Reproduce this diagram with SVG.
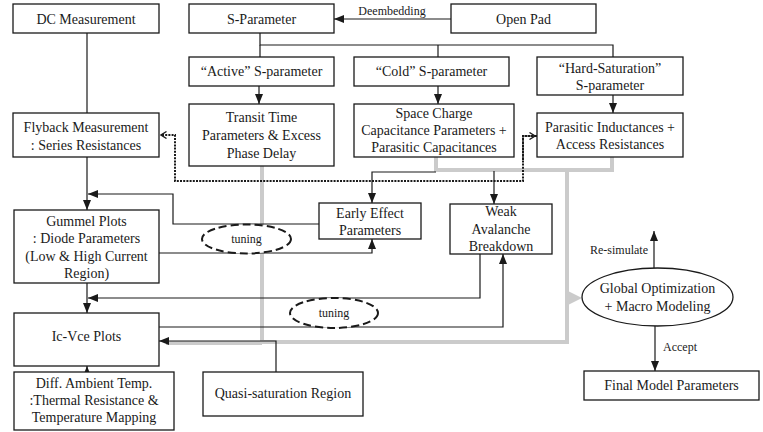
<svg xmlns="http://www.w3.org/2000/svg" width="763" height="432" viewBox="0 0 763 432">
<style>
.box{fill:#fff;stroke:#1a1a1a;stroke-width:1.3}
.t{font-family:"Liberation Serif","Times New Roman",serif;font-size:14px;fill:#1a1a1a;text-anchor:middle}
.s{font-family:"Liberation Serif","Times New Roman",serif;font-size:12px;fill:#1a1a1a;text-anchor:middle}
.c{fill:none;stroke:#1a1a1a;stroke-width:1.2}
.g{fill:none;stroke:#cbcbcb;stroke-width:4}
.d{fill:none;stroke:#1a1a1a;stroke-width:2;stroke-dasharray:2 1.2}
.e{fill:#fff;stroke:#1a1a1a;stroke-width:2;stroke-dasharray:8 4}
</style>
<defs>
<marker id="a" markerUnits="userSpaceOnUse" markerWidth="10" markerHeight="8" refX="10" refY="4" orient="auto"><path d="M0,0 L10,4 L0,8 z" fill="#1a1a1a"/></marker>
<marker id="o" markerUnits="userSpaceOnUse" markerWidth="7" markerHeight="8" refX="6" refY="4" orient="auto"><path d="M0.5,0.5 L6,4 L0.5,7.5" fill="none" stroke="#1a1a1a" stroke-width="1.3"/></marker>
</defs>
<g id="connectors">
<!-- gray network -->
<path class="g" d="M262,166 V342 H567 V170"/>
<path class="g" d="M166,343 H262"/>
<path class="g" d="M436,157 V170 H612 V157"/>
<path class="g" d="M567,298 H572"/>
<polygon points="566,290 582,298 566,306" fill="#cbcbcb"/>
<!-- dotted -->
<path class="d" d="M537,136 H523 V181 H175 V135 H161" marker-end="url(#o)"/>
<path class="d" d="M523,160 V136 H535" marker-end="url(#o)"/>
<!-- top -->
<path class="c" d="M451,19 H334" marker-end="url(#a)"/>
<path class="c" d="M260,33 V45 H613 V57"/>
<path class="c" d="M260,45 V57"/>
<path class="c" d="M438,45 V57"/>
<path class="c" d="M259,86 V104" marker-end="url(#a)"/>
<path class="c" d="M438,86 V104" marker-end="url(#a)"/>
<path class="c" d="M613,95 V113" marker-end="url(#a)"/>
<!-- left column -->
<path class="c" d="M87,33 V113"/>
<path class="c" d="M87,157 V210" marker-end="url(#a)"/>
<path class="c" d="M87,283 V313" marker-end="url(#a)"/>
<path class="c" d="M87,372 V366" marker-end="url(#a)"/>
<path class="c" d="M319,224 H173 V194 H88" marker-end="url(#a)"/>
<path class="c" d="M159,253 H372 V239" marker-end="url(#a)"/>
<path class="c" d="M480,254 V298 H88" marker-end="url(#a)"/>
<path class="c" d="M159,327 H503 V254" marker-end="url(#a)"/>
<path class="c" d="M276,372 V341 H159" marker-end="url(#a)"/>
<path class="c" d="M436,172 H372 V203" marker-end="url(#a)"/>
<path class="c" d="M494,171 V204" marker-end="url(#a)"/>
<!-- right -->
<path class="c" d="M654,268 V231" marker-end="url(#a)"/>
<path class="c" d="M655,326 V371" marker-end="url(#a)"/>
<text class="s" x="392" y="15">Deembedding</text>
<text class="s" x="619" y="254">Re-simulate</text>
<text class="s" x="663" y="351" style="text-anchor:start">Accept</text>
</g>
<g id="tuning1"><ellipse class="e" cx="246.5" cy="239" rx="44.5" ry="14.5"/><text class="s" x="246.5" y="243">tuning</text></g>
<g id="tuning2"><ellipse class="e" cx="334" cy="313" rx="44" ry="15"/><text class="s" x="334" y="317">tuning</text></g>
<g id="dc"><rect class="box" x="13" y="4" width="146" height="29"/><text class="t" x="86" y="23.5">DC Measurement</text></g>
<g id="sparam"><rect class="box" x="189" y="4" width="145" height="29"/><text class="t" x="261.5" y="23.5">S-Parameter</text></g>
<g id="openpad"><rect class="box" x="451" y="4" width="145" height="29"/><text class="t" x="523.5" y="23.5">Open Pad</text></g>
<g id="active"><rect class="box" x="189" y="57" width="145" height="29"/><text class="t" x="261.5" y="76">“Active” S-parameter</text></g>
<g id="cold"><rect class="box" x="354" y="57" width="155" height="29"/><text class="t" x="431.5" y="76">“Cold” S-parameter</text></g>
<g id="hard"><rect class="box" x="537" y="57" width="146" height="38"/><text class="t" x="610" y="72.5">“Hard-Saturation”</text><text class="t" x="610" y="90">S-parameter</text></g>
<g id="transit"><rect class="box" x="189" y="104" width="145" height="62"/><text class="t" x="261.5" y="122">Transit Time</text><text class="t" x="261.5" y="140">Parameters &amp; Excess</text><text class="t" x="261.5" y="157.5">Phase Delay</text></g>
<g id="space"><rect class="box" x="354" y="104" width="160" height="53"/><text class="t" x="434" y="118">Space Charge</text><text class="t" x="434" y="135">Capacitance Parameters +</text><text class="t" x="434" y="152">Parasitic Capacitances</text></g>
<g id="parasitic"><rect class="box" x="537" y="113" width="146" height="44"/><text class="t" x="610" y="131.5">Parasitic Inductances +</text><text class="t" x="610" y="148.5">Access Resistances</text></g>
<g id="flyback"><rect class="box" x="13" y="113" width="146" height="44"/><text class="t" x="86" y="132">Flyback Measurement</text><text class="t" x="86" y="149.5">: Series Resistances</text></g>
<g id="gummel"><rect class="box" x="14" y="210" width="145" height="73"/><text class="t" x="86.5" y="225.5">Gummel Plots</text><text class="t" x="86.5" y="243">: Diode Parameters</text><text class="t" x="86.5" y="260.5">(Low &amp; High Current</text><text class="t" x="86.5" y="277.5">Region)</text></g>
<g id="early"><rect class="box" x="319" y="203" width="102" height="36"/><text class="t" x="370" y="218">Early Effect</text><text class="t" x="370" y="235">Parameters</text></g>
<g id="weak"><rect class="box" x="450" y="204" width="102" height="50"/><text class="t" x="501" y="216">Weak</text><text class="t" x="501" y="233.5">Avalanche</text><text class="t" x="501" y="251">Breakdown</text></g>
<g id="icvce"><rect class="box" x="14" y="313" width="145" height="53"/><text class="t" x="86.5" y="341">Ic-Vce Plots</text></g>
<g id="diff"><rect class="box" x="14" y="372" width="160" height="58"/><text class="t" x="94" y="388">Diff. Ambient Temp.</text><text class="t" x="94" y="405">:Thermal Resistance &amp;</text><text class="t" x="94" y="422">Temperature Mapping</text></g>
<g id="quasi"><rect class="box" x="203" y="372" width="160" height="44"/><text class="t" x="283" y="398">Quasi-saturation Region</text></g>
<g id="global"><ellipse cx="657.5" cy="297" rx="75.5" ry="29" fill="#fff" stroke="#1a1a1a" stroke-width="1.3"/><text class="t" x="657.5" y="293">Global Optimization</text><text class="t" x="657.5" y="311">+ Macro Modeling</text></g>
<g id="final"><rect class="box" x="584" y="371" width="175" height="29"/><text class="t" x="671.5" y="390">Final Model Parameters</text></g>
</svg>
